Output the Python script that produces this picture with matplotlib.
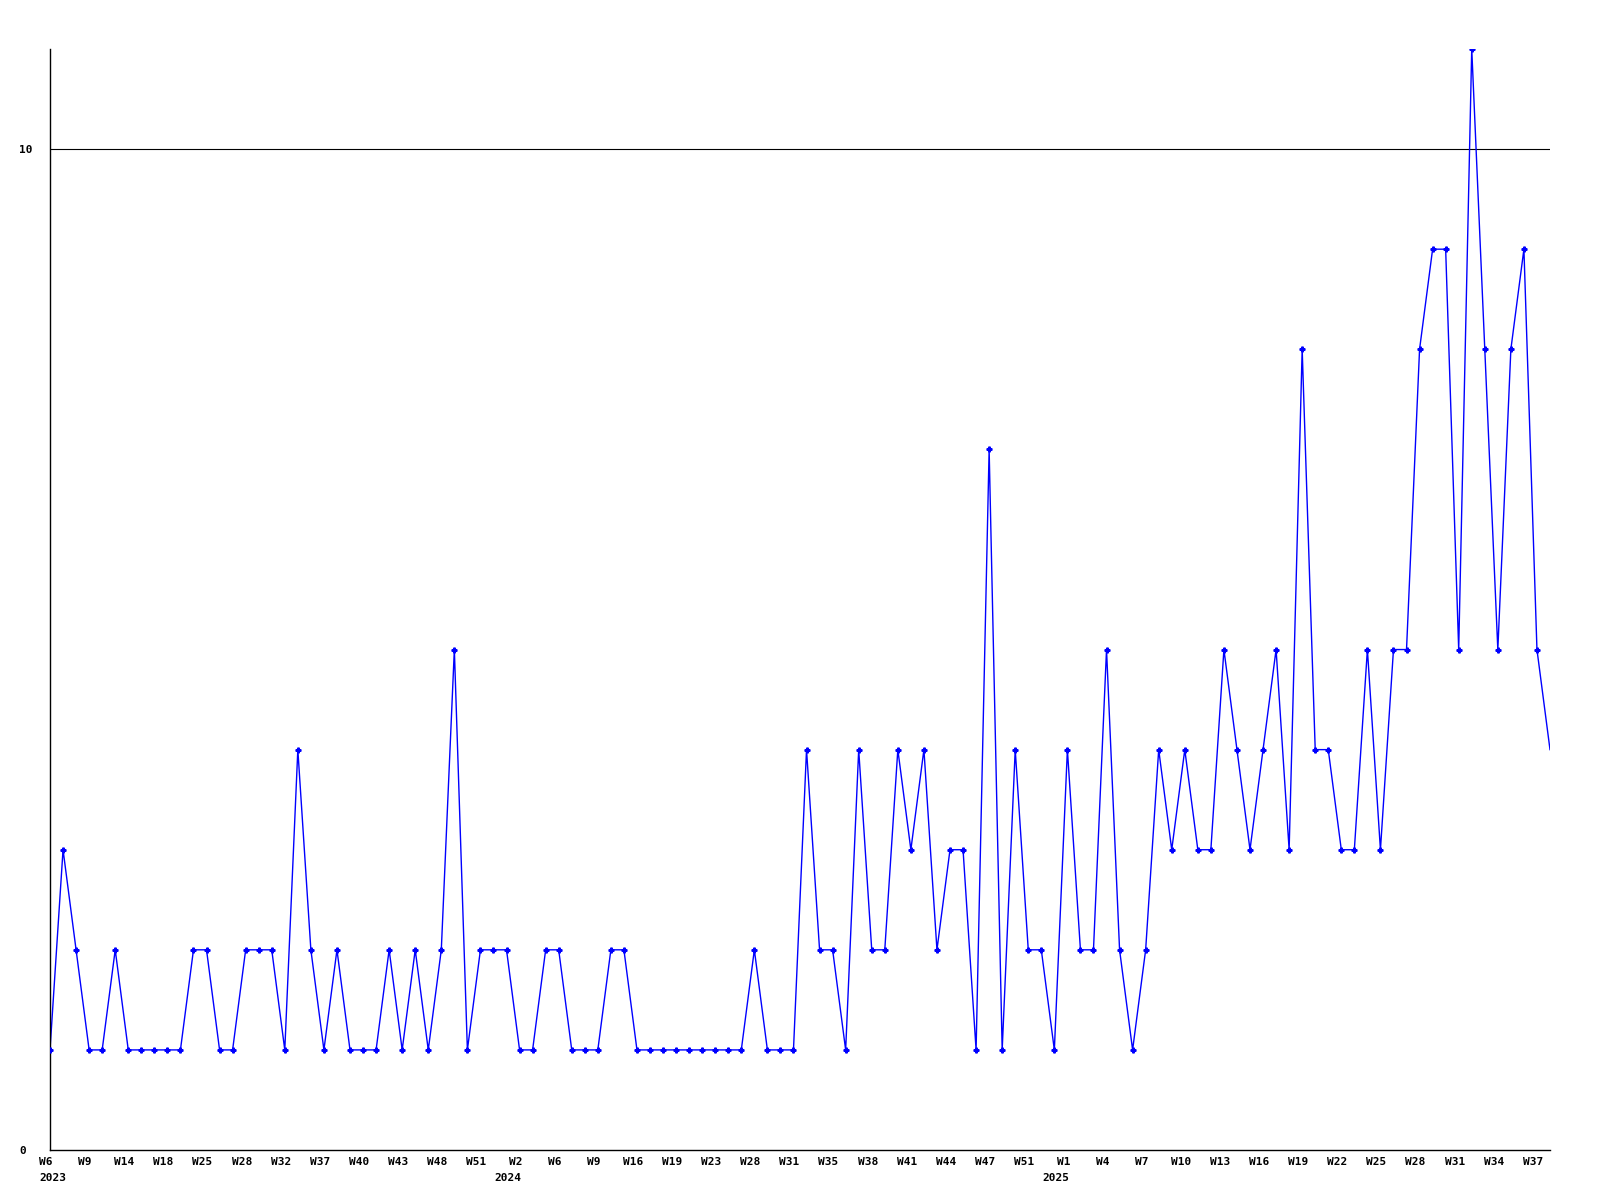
import numpy as np
import matplotlib
matplotlib.use("Agg")
import matplotlib.pyplot as plt
import matplotlib.transforms as mtransforms

# Werte pro Woche (kategoriale Achse, nur Wochen mit Daten)
werte = [1, 3, 2, 1, 1, 2, 1, 1, 1, 1, 1, 2, 2, 1, 1, 2, 2, 2, 1, 4,
         2, 1, 2, 1, 1, 1, 2, 1, 2, 1, 2, 5, 1, 2, 2, 2, 1, 1, 2, 2,
         1, 1, 1, 2, 2, 1, 1, 1, 1, 1, 1, 1, 1, 1, 2, 1, 1, 1, 4, 2,
         2, 1, 4, 2, 2, 4, 3, 4, 2, 3, 3, 1, 7, 1, 4, 2, 2, 1, 4, 2,
         2, 5, 2, 1, 2, 4, 3, 4, 3, 3, 5, 4, 3, 4, 5, 3, 8, 4, 4, 3,
         3, 5, 3, 5, 5, 8, 9, 9, 5, 11, 8, 5, 8, 9, 5, 4]

# Beschriftung jeder dritten Woche
wochen = ["W6", "W9", "W14", "W18", "W25", "W28", "W32", "W37", "W40", "W43",
          "W48", "W51", "W2", "W6", "W9", "W16", "W19", "W23", "W28", "W31",
          "W35", "W38", "W41", "W44", "W47", "W51", "W1", "W4", "W7", "W10",
          "W13", "W16", "W19", "W22", "W25", "W28", "W31", "W34", "W37"]
jahre = ["2023", "2024", "2025"]
jahr_index = [0, 36, 78]

x = np.arange(len(werte))
schrift = dict(family="DejaVu Sans Mono", weight="bold", size=8)

fig = plt.figure(figsize=(16, 12), dpi=100)
ax = fig.add_axes([50 / 1600, 50 / 1200, 1500 / 1600, 1101 / 1200])

ax.axhline(10, color="black", linewidth=0.8, zorder=1)
ax.plot(x, werte, color="#0000ff", linewidth=1.0, zorder=2)
ax.plot(x[:-1], werte[:-1], linestyle="none", marker="P", markersize=3.5,
        color="#0000ff", zorder=3)

for s in ["top", "right"]:
    ax.spines[s].set_visible(False)
for s in ["left", "bottom"]:
    ax.spines[s].set_linewidth(1.0)

ax.set_yticks([0, 10])
ax.set_yticklabels(["0", "10"], ha="left", **schrift)
ax.tick_params(axis="y", length=0, pad=22)

ax.set_xticks(x[::3])
ax.set_xticklabels(wochen, **schrift)
ax.tick_params(axis="x", length=0, pad=5)
# Wochenlabels leicht nach links versetzt wie im Original
versatz = mtransforms.ScaledTranslation(-4 / 100, 0, fig.dpi_scale_trans)
for lbl in ax.get_xticklabels():
    lbl.set_transform(lbl.get_transform() + versatz)

ax.set_xlim(0, len(werte) - 1)
ax.set_ylim(0, 11)

for j, i in zip(jahre, jahr_index):
    ha = "left" if i == 0 else "right"
    dx = -11 if i == 0 else 2
    ax.annotate(j, xy=(i, 0), xycoords=("data", "axes fraction"),
                xytext=(dx, -28), textcoords="offset pixels",
                ha=ha, va="center", annotation_clip=False, **schrift)

plt.savefig("out.png", dpi=100, facecolor="white")
